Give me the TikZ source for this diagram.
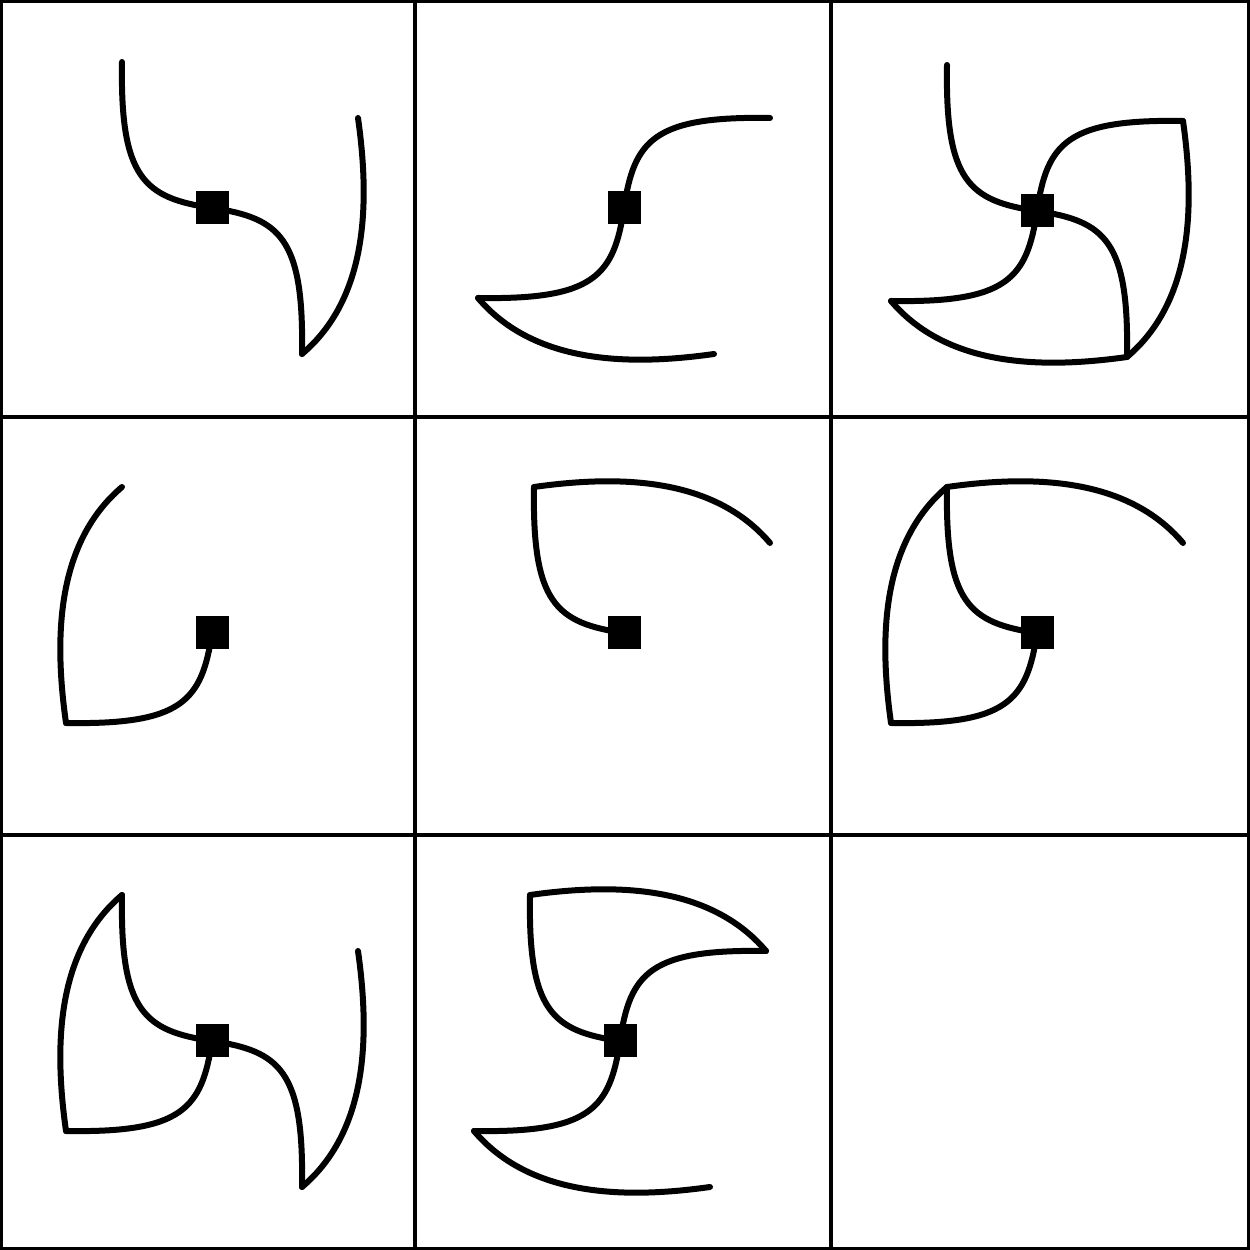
\documentclass[tikz,border=0pt]{standalone}
\usetikzlibrary{calc}
\begin{document}
\begin{tikzpicture}[x=0.02cm,y=0.02cm,
  hub/.style={fill=black,minimum size=0.66cm,inner sep=0pt},
  curve/.style={line width=0.12cm,line cap=round,line join=round},
  frame/.style={line width=0.07cm}]
  \useasboundingbox (0,0) rectangle (1250,1250);
  % the 3x3 grid
  \draw[frame] (1.75,1.75) rectangle (1248.25,1248.25);
  \draw[frame] (415,0) -- (415,1250) (831,0) -- (831,1250);
  \draw[frame] (0,833) -- (1250,833) (0,415) -- (1250,415);
  % cell / centre / arms / tails (0=up-left, 1=right, 2=down, 3=left)
  \foreach \n/\cx/\cy/\arms/\tails in {
    1/212/1042/{0,2}/{1},
    2/624/1042/{1,3}/{2},
    3/1037/1039/{0,1,2,3}/{1,2},
    4/212/617/{3}/{3},
    5/624/617/{0}/{0},
    6/1037/617/{0,3}/{3,0},
    7/212/209/{0,2,3}/{3,1},
    8/620/209/{0,1,3}/{0,2}} {
    \node[hub] (h\n) at (\cx,\cy) {};
    \foreach \k in {0,...,3}
      \path[shift={(\cx,\cy)},rotate=-90*\k] (-90,146) coordinate (h\n-\k);
    \foreach \k in \arms
      \draw[curve,rotate=-90*\k] (h\n.center) .. controls +(-68,10) and +(-2,-116) .. (h\n-\k);
    \foreach \k in \tails {
      \pgfmathtruncatemacro\j{mod(\k+1,4)}
      \draw[curve,rotate=-90*\k] (h\n-\k) .. controls +(85,12) and +(-56,66) .. (h\n-\j);
    }
  }
\end{tikzpicture}
\end{document}
